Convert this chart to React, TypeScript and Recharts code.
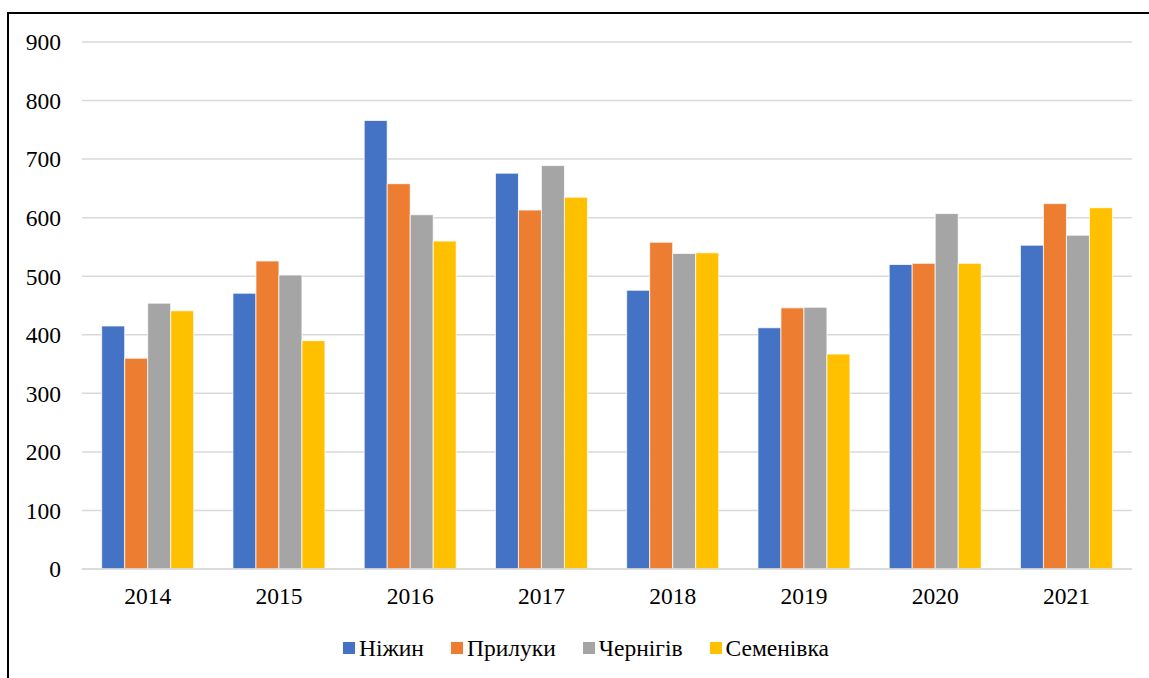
import React from "react";
import { BarChart, Bar, XAxis, YAxis, CartesianGrid, Legend } from "recharts";

const years = ["2014", "2015", "2016", "2017", "2018", "2019", "2020", "2021"];
const nizhyn = [415, 471, 766, 676, 476, 412, 520, 553];
const pryluky = [360, 526, 658, 613, 558, 446, 522, 624];
const chernihiv = [454, 502, 605, 689, 539, 447, 607, 570];
const semenivka = [441, 390, 560, 635, 540, 367, 522, 617];
const yTicks = [0, 100, 200, 300, 400, 500, 600, 700, 800, 900];

const seriesNames = ["Ніжин", "Прилуки", "Чернігів", "Семенівка"];
const colors = ["#4472C4", "#ED7D31", "#A5A5A5", "#FFC000"];

const data = years.map((y, i) => ({
  year: y,
  s0: nizhyn[i],
  s1: pryluky[i],
  s2: chernihiv[i],
  s3: semenivka[i],
}));

const FONT = "'Liberation Serif', 'Times New Roman', serif";
const FS = 23.5;

const LegendContent = () => (
  <div
    style={{
      height: 30,
      display: "flex",
      justifyContent: "center",
      alignItems: "center",
      fontFamily: FONT,
      fontSize: FS,
      color: "#000",
      paddingLeft: 18,
    }}
  >
    {seriesNames.map((n, i) => (
      <div key={n} style={{ display: "flex", alignItems: "center", marginRight: i < 3 ? 27 : 0 }}>
        <div style={{ width: 12, height: 12, background: colors[i], marginRight: 4 }} />
        <span>{n}</span>
      </div>
    ))}
  </div>
);

export default function App() {
  return (
    <div style={{ position: "fixed", left: 0, top: 0, width: 1149, height: 678, overflow: "hidden", background: "#fff" }}>
      <div
        style={{
          position: "absolute",
          left: 7,
          top: 12,
          width: 1300,
          height: 900,
          border: "2px solid #000",
        }}
      />
      <div style={{ position: "absolute", left: 0, top: 0 }}>
        <BarChart
          width={1149}
          height={678}
          data={data}
          margin={{ top: 42, right: 17, left: 22, bottom: 15 }}
          barCategoryGap="15%"
          barGap={0}
          style={{ fontFamily: FONT }}
        >
          <CartesianGrid vertical={false} stroke="#D9D9D9" strokeWidth={1.5} />
          <XAxis
            dataKey="year"
            axisLine={{ stroke: "#D9D9D9", strokeWidth: 1.5 }}
            tickLine={false}
            tickSize={0}
            tickMargin={18}
            height={64}
            tick={{ fill: "#000", fontSize: FS, fontFamily: FONT }}
          />
          <YAxis
            domain={[0, 900]}
            ticks={yTicks}
            interval={0}
            axisLine={false}
            tickLine={false}
            tickSize={0}
            tickMargin={21}
            width={60}
            tick={{ fill: "#000", fontSize: FS, fontFamily: FONT }}
          />
          <Legend verticalAlign="bottom" height={30} content={<LegendContent />} />
          {["s0", "s1", "s2", "s3"].map((k, i) => (
            <Bar
              key={k}
              dataKey={k}
              name={seriesNames[i]}
              fill={colors[i]}
              stroke="#fff"
              strokeWidth={0.75}
              isAnimationActive={false}
            />
          ))}
        </BarChart>
      </div>
    </div>
  );
}
